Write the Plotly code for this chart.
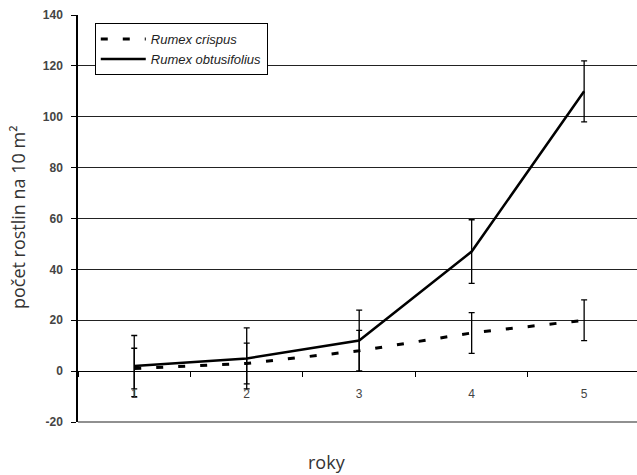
import plotly.graph_objects as go

years = [1, 2, 3, 4, 5]
year_labels = ["1", "2", "3", "4", "5"]
crispus = [1, 3, 8, 15, 20]
crispus_err = [8, 8, 8, 8, 8]
obtusifolius = [2, 5, 12, 47, 110]
obtusifolius_err = [12, 12, 12, 12.5, 12]
y_ticks = [-20, 0, 20, 40, 60, 80, 100, 120, 140]
y_tick_labels = ["-20", "0", "20", "40", "60", "80", "100", "120", "140"]

fig = go.Figure()
fig.add_trace(go.Scatter(
    x=years, y=crispus, mode="lines", name="<i>Rumex crispus</i>",
    line=dict(color="black", width=3, dash="7px,15px"),
    error_y=dict(type="data", array=crispus_err, visible=True, color="black", thickness=1.3, width=3),
))
fig.add_trace(go.Scatter(
    x=years, y=obtusifolius, mode="lines", name="<i>Rumex obtusifolius</i>",
    line=dict(color="black", width=2.5),
    error_y=dict(type="data", array=obtusifolius_err, visible=True, color="black", thickness=1.3, width=3),
))

fig.update_layout(
    width=637, height=475,
    margin=dict(l=78, r=0, t=15, b=53),
    paper_bgcolor="white", plot_bgcolor="white",
    showlegend=True,
    legend=dict(
        x=0.03, y=0.98, xanchor="left", yanchor="top",
        bordercolor="black", borderwidth=1, bgcolor="white",
        font=dict(family="Liberation Sans, Arial", size=13, color="#222"),
        tracegroupgap=0, itemwidth=45, entrywidth=195, entrywidthmode="pixels",
    ),
    xaxis=dict(
        range=[0.5, 5.47], anchor="free", position=0.125,
        tickvals=years, ticktext=year_labels, ticks="", showgrid=False,
        showline=True, linecolor="black", linewidth=1.2,
        tickfont=dict(family="Liberation Sans, Arial", size=12, color="#444"),
        ticklabelstandoff=11,
        minor=dict(tick0=0.5, dtick=1, ticks="outside", ticklen=5, tickcolor="black", showgrid=False),
        zeroline=False,
    ),
    yaxis=dict(
        range=[-20, 140], tickvals=y_ticks, ticktext=y_tick_labels,
        ticks="outside", ticklen=5, tickcolor="black",
        showline=True, linecolor="black", linewidth=1.5,
        showgrid=True, gridcolor="#222", gridwidth=1, zeroline=False,
        tickfont=dict(family="Liberation Sans, Arial", size=12, color="#444", weight="bold"),
        ticklabelstandoff=6,
    ),
    shapes=[
        dict(type="line", xref="paper", yref="paper", x0=0, x1=1, y0=0, y1=0,
             line=dict(color="#222", width=1.2)),
    ],
    annotations=[
        dict(text="počet rostlin na 10 m²", xref="paper", yref="paper", x=-0.107, y=0.504,
             xanchor="center", yanchor="middle", textangle=-90, showarrow=False,
             font=dict(family="Open Sans", size=18, color="#333")),
        dict(text="roky", xref="paper", yref="paper", x=0.445, y=-0.098,
             xanchor="center", yanchor="middle", showarrow=False,
             font=dict(family="Open Sans", size=18, color="#333")),
    ],
)

fig.write_html("out.html", config={"displayModeBar": False},
               post_script="document.body.style.margin='0';")
